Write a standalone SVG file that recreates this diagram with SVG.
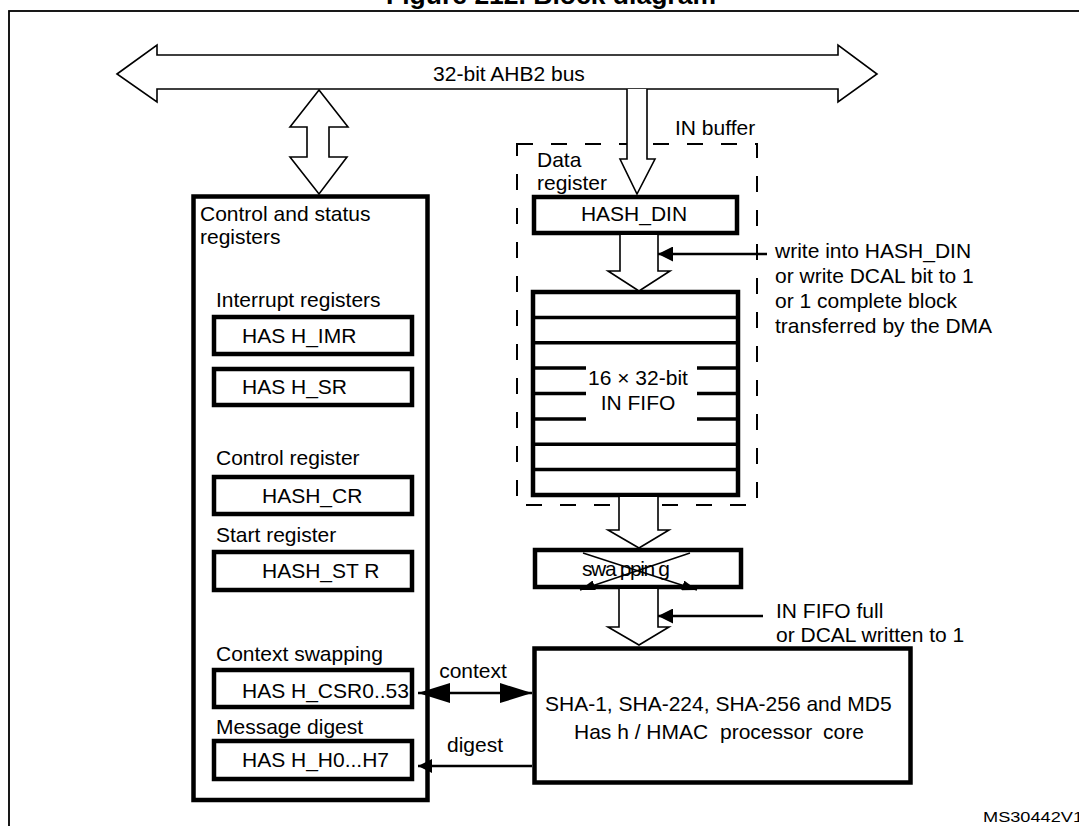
<svg xmlns="http://www.w3.org/2000/svg" width="1079" height="826" viewBox="0 0 1079 826">
<style>
text{font-family:"Liberation Sans",Arial,sans-serif;font-size:21px;fill:#000}
.t{font-weight:bold;font-size:26.5px}
.ms{font-size:14px}
.box{fill:#fff;stroke:#000;stroke-width:4.5}
.open{fill:#fff;stroke:#000;stroke-width:1.6;stroke-linejoin:miter}
.ln{fill:none;stroke:#000;stroke-width:2.5}
.thin{fill:none;stroke:#000;stroke-width:1.4}
.fifo{fill:none;stroke:#000;stroke-width:3.5}
.dash{fill:none;stroke:#000;stroke-width:2;stroke-dasharray:16 18}
</style>
<defs>
<marker id="trig" viewBox="0 0 15 15" markerUnits="userSpaceOnUse" markerWidth="15" markerHeight="15" refX="15" refY="7.5" orient="auto"><path d="M0,0 L15,7.5 L0,15 z" fill="#000"/></marker>
<marker id="ctx" viewBox="0 0 32 20" markerUnits="userSpaceOnUse" markerWidth="32" markerHeight="20" refX="32" refY="10" orient="auto-start-reverse"><path d="M0,0 L32,10 L0,20 z" fill="#000"/></marker>
<marker id="dig" viewBox="0 0 14 14" markerUnits="userSpaceOnUse" markerWidth="14" markerHeight="14" refX="14" refY="7" orient="auto"><path d="M0,0 L14,7 L0,14 z" fill="#000"/></marker>
<marker id="swp" viewBox="0 0 15 10" markerUnits="userSpaceOnUse" markerWidth="15" markerHeight="10" refX="15" refY="5" orient="auto"><path d="M0,0 L15,5 L0,10 z" fill="#000"/></marker>
</defs>
<rect width="1079" height="826" fill="#fff"/>
<text class="t" x="551" y="4" text-anchor="middle">Figure 212. Block diagram</text>
<rect x="9" y="11" width="1200" height="900" fill="none" stroke="#000" stroke-width="1.8"/>

<g id="bus">
<polygon class="open" points="117,74 157,45 157,55 838,55 838,45 877,74 838,102 838,89 157,89 157,102"/>
<text x="509" y="81" text-anchor="middle" font-size="20">32-bit AHB2 bus</text>
</g>

<g id="control-status-registers">
<rect class="box" x="193.5" y="196.5" width="234" height="603.5" stroke-width="4"/>
<text x="200" y="221">Control and status</text>
<text x="200" y="244">registers</text>
<text x="216" y="307">Interrupt registers</text>
<rect class="box" x="214" y="317" width="198" height="37"/>
<text x="242" y="343">HAS H_IMR</text>
<rect class="box" x="214" y="369" width="198" height="36"/>
<text x="242" y="394">HAS H_SR</text>
<text x="216" y="465">Control register</text>
<rect class="box" x="214" y="477" width="198" height="37"/>
<text x="262" y="503">HASH_CR</text>
<text x="216" y="542">Start register</text>
<rect class="box" x="214" y="552" width="198" height="38"/>
<text x="262" y="578">HASH_ST R</text>
<text x="216" y="661">Context swapping</text>
<rect class="box" x="214" y="670" width="198" height="37"/>
<text x="242" y="698">HAS H_CSR0..53</text>
<text x="216" y="734">Message digest</text>
<rect class="box" x="214" y="741" width="198" height="38"/>
<text x="242" y="767">HAS H_H0...H7</text>
</g>

<g id="in-buffer">
<rect class="dash" x="517" y="144" width="240" height="361"/>
<text x="675" y="135">IN buffer</text>
<text x="537" y="167">Data</text>
<text x="537" y="190">register</text>
</g>

<g id="hash-din">
<rect class="box" x="534" y="197" width="203" height="36"/>
<text x="634" y="221" text-anchor="middle">HASH_DIN</text>
</g>

<g id="in-fifo">
<rect class="box" x="533" y="292" width="205" height="203" stroke-width="4"/>
<path class="fifo" d="M533,317.4H738 M533,342.8H738 M533,368.1H586 M697,368.1H738 M533,393.5H586 M697,393.5H738 M533,418.9H586 M697,418.9H738 M533,444.3H738 M533,469.6H738"/>
<text x="638" y="385" text-anchor="middle">16 × 32-bit</text>
<text x="638" y="410" text-anchor="middle">IN FIFO</text>
</g>

<g id="swapping">
<rect class="box" x="535" y="550" width="206" height="37"/>
<text x="582" y="576" textLength="88" lengthAdjust="spacing">swa ppin g</text>
<line class="thin" x1="583" y1="553" x2="697" y2="590" marker-end="url(#swp)"/>
<line class="thin" x1="690" y1="553" x2="580" y2="590" marker-end="url(#swp)"/>
</g>

<g id="core">
<rect class="box" x="534.5" y="648.5" width="376" height="134" stroke-width="5"/>
<text x="545" y="711">SHA-1, SHA-224, SHA-256 and MD5</text>
<text y="739"><tspan x="574">Has h / HMAC</tspan><tspan x="720">processor</tspan><tspan x="823">core</tspan></text>
</g>

<g id="connectors">
<polygon class="open" points="319,90 348,127 329,127 329,157 347,157 319,194 290,157 307,157 307,127 290,127"/>
<polyline class="open" points="627,89 627,159 620,159 637,194 655,159 647,159 647,89"/>
<polyline class="open" points="620,235 620,271 608,271 639,291 670,271 658,271 658,235"/>
<polyline class="open" points="619,497 619,530 608,530 639,548 669,530 658,530 658,497"/>
<polyline class="open" points="619,589 619,627 608,627 639,645 669,627 658,627 658,589"/>
<line class="ln" x1="767" y1="254" x2="658" y2="254" marker-end="url(#trig)"/>
<line class="ln" x1="763" y1="616" x2="658" y2="616" marker-end="url(#trig)"/>
<line class="ln" x1="418" y1="693" x2="532" y2="693" marker-start="url(#ctx)" marker-end="url(#ctx)"/>
<line class="ln" x1="532" y1="766" x2="418" y2="766" marker-end="url(#dig)"/>
<text x="473" y="678" text-anchor="middle">context</text>
<text x="475" y="752" text-anchor="middle">digest</text>
<text x="775" y="258">write into HASH_DIN</text>
<text x="775" y="283">or write DCAL bit to 1</text>
<text x="775" y="308">or 1 complete block</text>
<text x="775" y="333">transferred by the DMA</text>
<text x="776" y="618">IN FIFO full</text>
<text x="776" y="642">or DCAL written to 1</text>
</g>
<text class="ms" x="983" y="822" textLength="100" lengthAdjust="spacingAndGlyphs">MS30442V1</text>
</svg>
